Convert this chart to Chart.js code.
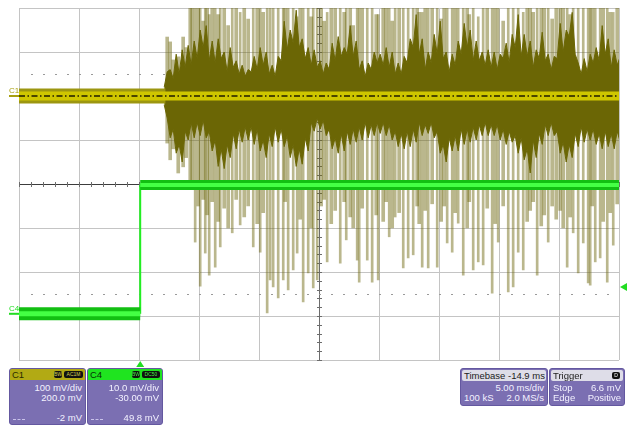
<!DOCTYPE html>
<html>
<head>
<meta charset="utf-8">
<script src="https://cdn.jsdelivr.net/npm/chart.js@4.4.1/dist/chart.umd.min.js"></script>
<style>
  html, body { margin: 0; padding: 0; background: #fff; }
  #wrap { position: relative; width: 628px; height: 427px; overflow: hidden; }
  #scope { position: absolute; left: 0; top: 0; }
  .box { position: absolute; background: #7b6fb2; border: 1px solid #6458a0; border-radius: 3px;
         overflow: hidden; font-family: "Liberation Sans", Arial, sans-serif; font-size: 9.5px; color: #f3f1ff; }
  .hdr { position: absolute; left: 0; right: 0; top: 0; height: 11px; line-height: 11px; padding-left: 2px; font-size: 9.5px; }
  .badge { position: absolute; top: 2px; height: 7px; line-height: 7px; background: #111; color: #d8d050;
           font-size: 5px; border-radius: 2px; text-align: center; }
  .row { position: absolute; left: 3px; right: 3px; height: 11px; line-height: 11px; }
  .row .l { position: absolute; left: 0; }
  .row .r { position: absolute; right: 0; }
  .dash { position: absolute; left: 3px; bottom: 4px; width: 12px; border-top: 1px dashed #c9c2ea; }
</style>
</head>
<body>
<div id="wrap">
  <canvas id="scope" width="628" height="427"></canvas>

  <div class="box" style="left:9px;top:368px;width:75px;height:55px;">
    <div class="hdr" style="background:#b2aa14;color:#2c2a00;">C1</div>
    <div class="badge" style="left:44px;width:8px;">BW</div>
    <div class="badge" style="left:54px;width:19px;">AC1M</div>
    <div class="row" style="top:13px;"><span class="r">100 mV/div</span></div>
    <div class="row" style="top:23px;"><span class="r">200.0 mV</span></div>
    <div class="row" style="top:43px;"><span class="r">-2 mV</span></div>
    <div class="dash"></div>
  </div>

  <div class="box" style="left:87px;top:368px;width:74px;height:55px;">
    <div class="hdr" style="background:#1fe41f;color:#063006;">C4</div>
    <div class="badge" style="left:44px;width:8px;color:#40f040;">BW</div>
    <div class="badge" style="left:54px;width:18px;color:#40f040;">DC50</div>
    <div class="row" style="top:13px;"><span class="r">10.0 mV/div</span></div>
    <div class="row" style="top:23px;"><span class="r">-30.00 mV</span></div>
    <div class="row" style="top:43px;"><span class="r">49.8 mV</span></div>
    <div class="dash"></div>
  </div>

  <div class="box" style="left:460px;top:368px;width:86px;height:36px;">
    <div class="hdr" style="background:#dedde8;color:#222;left:1px;right:1px;top:1px;border-radius:2px;">Timebase -14.9 ms</div>
    <div class="row" style="top:13px;"><span class="r">5.00 ms/div</span></div>
    <div class="row" style="top:23px;"><span class="l">100 kS</span><span class="r">2.0 MS/s</span></div>
  </div>

  <div class="box" style="left:549px;top:368px;width:74px;height:36px;">
    <div class="hdr" style="background:#dedde8;color:#222;left:1px;right:1px;top:1px;border-radius:2px;">Trigger</div>
    <div class="badge" style="left:62px;width:8px;top:3px;color:#fff;">D</div>
    <div class="row" style="top:13px;"><span class="l">Stop</span><span class="r">6.6 mV</span></div>
    <div class="row" style="top:23px;"><span class="l">Edge</span><span class="r">Positive</span></div>
  </div>
</div>

<script>
// timebase: 5 ms/div, trigger (t = 0) at -14.9 ms from centre
const msPerDiv = 5;
const timeStartMs = -10.1;
const timeEndMs = 39.9;

// C1: 100 mV/div, offset 200 mV ; C4: 10 mV/div, offset -30 mV
const c1MinMv = -600, c1MaxMv = 200, c1MvPerDiv = 100;
const c4MinMv = -10, c4MaxMv = 70;
const c1BaselineMv = 0;
const c4LowMv = 0.5;
const c4HighMv = 29.8;
const c4StepMs = 0;
const triggerLevelMv = 6.6;
const burstStartMs = 2.1;
const markerLevelsMv = [50, -450];

// C1 dense envelope, sampled every 0.25 ms from 2.0 ms
const envStartMs = 2.0;
const envStepMs = 0.25;
const envUpperMv = [
  20, 55, 60, 40, 95, 50, 105, 65, 115, 70,
  125, 85, 150, 110, 160, 80, 125, 75, 130, 85,
  100, 55, 110, 65, 80, 50, 70, 45, 60, 55,
  90, 60, 110, 70, 100, 50, 70, 45, 90, 80,
  170, 105, 150, 120, 195, 110, 130, 85, 110, 70,
  105, 65, 80, 50, 75, 60, 120, 80, 135, 90,
  110, 95, 160, 90, 125, 60, 80, 45, 75, 60,
  100, 75, 95, 70, 110, 65, 100, 50, 75, 50,
  90, 75, 130, 110, 185, 95, 130, 60, 100, 75,
  140, 95, 170, 85, 100, 55, 95, 70, 125, 95,
  165, 110, 150, 80, 125, 80, 100, 70, 105, 65,
  100, 60, 95, 85, 120, 75, 140, 110, 185, 90,
  140, 90, 125, 65, 105, 85, 145, 80, 95, 60,
  90, 85, 165, 100, 150, 135, 190, 95, 75, 50,
  85, 55, 95, 75, 110, 80, 160, 95, 130, 65,
  105, 70, 90
];
const envLowerMv = [
  -20, -50, -95, -75, -130, -110, -150, -80, -100, -60,
  -95, -60, -90, -55, -95, -80, -125, -100, -160, -120,
  -165, -110, -140, -85, -120, -75, -105, -70, -100, -70,
  -110, -75, -125, -100, -140, -85, -115, -70, -105, -75,
  -115, -90, -140, -110, -160, -120, -155, -95, -125, -60,
  -80, -50, -75, -55, -90, -75, -120, -95, -130, -85,
  -125, -80, -110, -75, -105, -70, -100, -60, -95, -65,
  -90, -60, -85, -60, -90, -65, -100, -80, -115, -85,
  -120, -80, -115, -75, -105, -60, -90, -65, -85, -60,
  -95, -80, -130, -110, -150, -95, -125, -90, -125, -75,
  -110, -75, -105, -70, -100, -65, -90, -60, -90, -65,
  -90, -65, -100, -75, -110, -80, -105, -90, -130, -95,
  -145, -120, -175, -100, -140, -85, -110, -65, -90, -60,
  -90, -80, -130, -105, -150, -110, -140, -85, -115, -70,
  -105, -75, -100, -75, -110, -85, -120, -80, -115, -85,
  -120, -80, -105
];

// C1 long spikes (reach far below the C4 level)
const longSpikeMs = [
  4.58, 5.0, 5.42, 5.75, 6.25, 6.67, 7.67, 8.33, 9.42, 10.0,
  10.58, 10.83, 11.08, 11.5, 11.92, 12.33, 12.75, 13.08, 13.58, 14.0,
  14.42, 14.75, 15.58, 16.67, 17.17, 18.08, 18.25, 18.92, 19.33, 19.83,
  20.75, 21.25, 21.92, 22.33, 22.75, 23.5, 24.0, 24.75, 25.58, 26.0,
  26.5, 26.92, 27.75, 28.17, 28.58, 29.33, 29.83, 30.67, 31.08, 31.5,
  31.92, 33.08, 34.0, 35.58, 36.08, 36.5, 36.92, 37.33, 37.5, 37.92,
  38.33, 38.92, 39.42
];
const longSpikeLowMv = [
  -332, -432, -357, -407, -389, -343, -311, -293, -343, -355,
  -493, -418, -434, -459, -418, -441, -395, -357, -468, -402,
  -436, -418, -377, -380, -327, -373, -423, -373, -423, -418,
  -320, -275, -391, -368, -361, -389, -391, -389, -334, -355,
  -289, -407, -395, -377, -384, -448, -332, -445, -434, -355,
  -395, -407, -332, -389, -311, -402, -334, -425, -430, -377,
  -368, -423, -339
];
const longSpikeHighMv = [
  200, 200, 200, 185, 200, 200, 200, 190, 200, 200,
  200, 200, 200, 200, 200, 200, 200, 180, 200, 200,
  200, 200, 190, 200, 200, 200, 200, 200, 200, 185,
  200, 200, 200, 200, 200, 190, 200, 200, 200, 200,
  200, 200, 200, 180, 200, 200, 200, 200, 200, 200,
  190, 200, 200, 200, 200, 200, 200, 200, 200, 200,
  200, 200, 190
];

// C1 short spikes (end just under the C4 trace)
const shortSpikeMs = [
  2.25, 2.5, 2.75, 3.17, 3.58, 3.83, 4.17, 4.33, 4.83, 5.25,
  5.58, 6.0, 6.5, 7.0, 7.33, 8.0, 8.67, 9.0, 9.75, 10.25,
  12.08, 13.33, 14.25, 15.08, 15.33, 15.92, 16.25, 17.0, 17.5, 17.75,
  18.5, 19.67, 20.25, 20.5, 21.0, 21.58, 23.08, 23.25, 23.75, 24.33,
  25.08, 25.33, 26.25, 27.25, 27.42, 28.92, 29.58, 30.25, 32.25, 32.5,
  32.75, 33.42, 33.67, 34.33, 34.67, 35.0, 35.25, 35.83, 37.67, 38.58,
  39.17, 39.75
];
const shortSpikeHighMv = [
  134, 123, 82, 89, 134, 110, 200, 200, 200, 170,
  200, 200, 185, 200, 160, 200, 200, 175, 200, 190,
  200, 200, 180, 200, 170, 200, 200, 190, 200, 160,
  200, 185, 200, 200, 170, 200, 200, 190, 200, 200,
  175, 200, 200, 200, 185, 200, 200, 170, 200, 200,
  190, 200, 200, 175, 200, 200, 200, 185, 200, 200,
  190, 200
];
const shortSpikeLowMv = [
  -107, -145, -120, -175, -161, -140, -191, -200, -250, -235,
  -270, -240, -285, -255, -300, -235, -275, -250, -290, -265,
  -240, -280, -300, -250, -235, -290, -260, -240, -275, -300,
  -255, -270, -285, -240, -300, -265, -250, -290, -260, -245,
  -285, -250, -265, -300, -240, -255, -290, -250, -285, -260,
  -240, -295, -270, -250, -280, -260, -300, -275, -250, -285,
  -265, -245
];

const c1Dark = '#6b6605';
const c1Light = 'rgba(110,104,16,0.48)';
const c1Yellow = '#cfc600';
const c4Green = '#22ee22';
const c4Edge = '#12bf12';

const envTimes = envUpperMv.map((_, i) => envStartMs + i * envStepMs);
const seg = (t0, t1, v) => [{x: t0, y: v}, {x: t1, y: v}];

const lineBase = { type: 'line', pointRadius: 0, tension: 0, fill: false, borderCapStyle: 'butt', clip: 0 };

const datasets = [
  // C4
  { ...lineBase, order: 0, yAxisID: 'y4', data: seg(c4StepMs, timeEndMs, c4HighMv), borderColor: '#44ff44', borderWidth: 4 },
  { ...lineBase, order: 1, yAxisID: 'y4', data: seg(timeStartMs, c4StepMs, c4LowMv), borderColor: '#44ff44', borderWidth: 5 },
  { ...lineBase, order: 2, yAxisID: 'y4', data: seg(c4StepMs, timeEndMs, c4HighMv), borderColor: c4Edge, borderWidth: 10 },
  { ...lineBase, order: 3, yAxisID: 'y4', data: seg(timeStartMs, c4StepMs, c4LowMv), borderColor: c4Edge, borderWidth: 13 },
  { ...lineBase, order: 4, yAxisID: 'y4', data: [{x: c4StepMs, y: c4LowMv}, {x: c4StepMs, y: c4HighMv}], borderColor: c4Green, borderWidth: 2 },
  // C1 centre trace
  { ...lineBase, order: 5, yAxisID: 'y', data: seg(timeStartMs, timeEndMs, c1BaselineMv), borderColor: '#4a4500', borderWidth: 2, borderDash: [6, 2.5, 1.5, 2.5] },
  { ...lineBase, order: 6, yAxisID: 'y', data: seg(timeStartMs, timeEndMs, c1BaselineMv), borderColor: c1Yellow, borderWidth: 9 },
  { ...lineBase, order: 7, yAxisID: 'y', data: seg(timeStartMs, burstStartMs, c1BaselineMv), borderColor: '#9c9610', borderWidth: 15 },
  // C1 dense envelope
  { ...lineBase, order: 8, yAxisID: 'y', data: envTimes.map((t, i) => ({x: t, y: envUpperMv[i]})), borderColor: c1Dark, borderWidth: 1 },
  { ...lineBase, order: 8, yAxisID: 'y', data: envTimes.map((t, i) => ({x: t, y: envLowerMv[i]})), borderColor: c1Dark, borderWidth: 1, fill: '-1', backgroundColor: c1Dark },
  // C1 spikes
  { type: 'bar', order: 9, yAxisID: 'y', grouped: false, barThickness: 3, backgroundColor: c1Light, borderWidth: 0,
    data: shortSpikeMs.map((t, i) => ({x: t, y: [shortSpikeLowMv[i], shortSpikeHighMv[i]]})) },
  { type: 'bar', order: 10, yAxisID: 'y', grouped: false, barThickness: 2, backgroundColor: c1Light, borderWidth: 0,
    data: longSpikeMs.map((t, i) => ({x: t, y: [longSpikeLowMv[i], longSpikeHighMv[i]]})) }
];

const gridGray = '#c4c4c4';
const axisGray = '#6c6c6c';
const centreMs = timeStartMs + 5 * msPerDiv;
const centreMv = c1MinMv + 4 * c1MvPerDiv;

const scopeDecor = {
  id: 'scopeDecor',
  beforeDatasetsDraw(chart) {
    const {ctx, scales: {x, y}} = chart;
    const cx = Math.round(x.getPixelForValue(centreMs));
    const cy = Math.round(y.getPixelForValue(centreMv));
    ctx.save();
    ctx.fillStyle = axisGray;
    for (let i = 0; i <= 50; i++) {
      const px = Math.round(x.getPixelForValue(timeStartMs + i * msPerDiv / 5));
      ctx.fillRect(px, cy - 2, 1, 5);
    }
    for (let i = 0; i <= 40; i++) {
      const py = Math.round(y.getPixelForValue(c1MinMv + i * c1MvPerDiv / 5));
      ctx.fillRect(cx - 2, py, 5, 1);
    }
    ctx.fillStyle = '#9a9a9a';
    markerLevelsMv.forEach(v => {
      const py = Math.round(y.getPixelForValue(v));
      for (let i = 1; i < 50; i++) {
        const px = Math.round(x.getPixelForValue(timeStartMs + i * msPerDiv / 5));
        ctx.fillRect(px, py, 2, 1);
      }
    });
    ctx.restore();
  },
  afterDraw(chart) {
    const {ctx, chartArea: a, scales: {x, y, y4}} = chart;
    ctx.save();
    ctx.font = '8px "Liberation Sans", Arial, sans-serif';
    const y1 = y.getPixelForValue(c1BaselineMv);
    ctx.fillStyle = '#a8a010';
    ctx.fillText('C1', 9, y1 - 3);
    ctx.fillRect(9, y1 - 1, a.left - 9, 2);
    const yl = y4.getPixelForValue(c4LowMv);
    ctx.fillStyle = '#22dd22';
    ctx.fillText('C4', 9, yl - 3);
    ctx.fillRect(9, yl - 1, a.left - 9, 2);
    // trigger level marker
    const yt = y4.getPixelForValue(triggerLevelMv);
    ctx.fillStyle = '#22dd22';
    ctx.beginPath();
    ctx.moveTo(a.right + 1, yt);
    ctx.lineTo(a.right + 8, yt - 4);
    ctx.lineTo(a.right + 8, yt + 4);
    ctx.closePath();
    ctx.fill();
    // trigger time marker
    const xt = x.getPixelForValue(c4StepMs);
    ctx.beginPath();
    ctx.moveTo(xt, a.bottom + 1);
    ctx.lineTo(xt - 4, a.bottom + 7);
    ctx.lineTo(xt + 4, a.bottom + 7);
    ctx.closePath();
    ctx.fill();
    ctx.restore();
  }
};

new Chart(document.getElementById('scope'), {
  type: 'line',
  data: { datasets },
  options: {
    responsive: false,
    animation: false,
    events: [],
    layout: { padding: { left: 19, top: 8, right: 9, bottom: 67 } },
    plugins: { legend: { display: false }, tooltip: { enabled: false } },
    scales: {
      x: {
        type: 'linear', min: timeStartMs, max: timeEndMs, offset: false,
        afterBuildTicks: s => { s.ticks = Array.from({length: 11}, (_, i) => ({value: timeStartMs + i * msPerDiv})); },
        ticks: { display: false },
        grid: { drawTicks: false, offset: false, lineWidth: 1,
                color: c => Math.abs(c.tick.value - centreMs) < 0.01 ? axisGray : gridGray },
        border: { display: false }
      },
      y: {
        type: 'linear', min: c1MinMv, max: c1MaxMv,
        afterBuildTicks: s => { s.ticks = Array.from({length: 9}, (_, i) => ({value: c1MinMv + i * c1MvPerDiv})); },
        ticks: { display: false },
        grid: { drawTicks: false, lineWidth: 1,
                color: c => Math.abs(c.tick.value - centreMv) < 0.01 ? '#3c3c3c' : gridGray },
        border: { display: false }
      },
      y4: { type: 'linear', min: c4MinMv, max: c4MaxMv, display: false }
    }
  },
  plugins: [scopeDecor]
});
</script>
</body>
</html>
